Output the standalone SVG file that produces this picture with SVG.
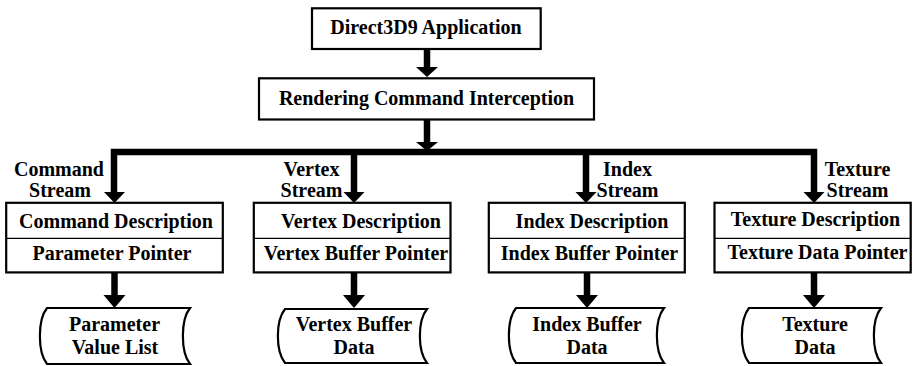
<svg xmlns="http://www.w3.org/2000/svg" width="916" height="366" viewBox="0 0 916 366">
  <style>
    .box { fill: #ffffff; stroke: #000000; stroke-width: 2.2; }
    .sep { stroke: #000000; stroke-width: 1.3; }
    .doc { fill: #ffffff; stroke: #000000; stroke-width: 2.2; }
    .wire { fill: none; stroke: #000000; stroke-width: 6.5; stroke-linejoin: miter; stroke-linecap: butt; }
    .head { fill: #000000; stroke: none; }
    text { font-family: 'Liberation Serif', Tinos, 'Times New Roman', 'DejaVu Serif', serif; font-weight: 700; font-size: 20px; fill: #000000; text-anchor: middle; }
  </style>

  <!-- connectors: trunk, distribution bus and branch arrows -->
  <g id="connectors">
    <!-- application to interception -->
    <path class="wire" d="M427,49 V68"/>
    <polygon class="head" points="416,67 438,67 427,77"/>
    <!-- interception to bus -->
    <path class="wire" d="M427,120 V143"/>
    <polygon class="head" points="416,142 438,142 427,151"/>
    <!-- bus with four branches -->
    <path class="wire" d="M114,193 V152 H814 V193"/>
    <path class="wire" d="M354,152 V193"/>
    <path class="wire" d="M586,152 V193"/>
    <polygon class="head" points="104,192 125,192 114.5,203"/>
    <polygon class="head" points="343.5,192 364.5,192 354,203"/>
    <polygon class="head" points="575.5,192 596.5,192 586,203"/>
    <polygon class="head" points="803.5,192 824.5,192 814,203"/>
    <!-- descriptors to data stores -->
    <path class="wire" d="M114.5,273 V296"/>
    <polygon class="head" points="103.5,295 125.5,295 114.5,308"/>
    <path class="wire" d="M354,273 V296"/>
    <polygon class="head" points="343,295 365,295 354,308"/>
    <path class="wire" d="M587,273 V296"/>
    <polygon class="head" points="576,295 598,295 587,308"/>
    <path class="wire" d="M814,273 V296"/>
    <polygon class="head" points="803,295 825,295 814,308"/>
  </g>

  <!-- stream labels on the bus branches -->
  <g id="stream-labels" font-family="Liberation Serif, serif">
    <text x="59" y="176">Command</text>
    <text x="60" y="197">Stream</text>
    <text x="311.5" y="176">Vertex</text>
    <text x="311.5" y="197">Stream</text>
    <text x="627.5" y="176">Index</text>
    <text x="627.5" y="197">Stream</text>
    <text x="857.5" y="176">Texture</text>
    <text x="857.5" y="197">Stream</text>
  </g>

  <g id="app">
    <rect class="box" x="312" y="8.3" width="228.7" height="40.7"/>
    <text x="426" y="34">Direct3D9 Application</text>
  </g>

  <g id="interception">
    <rect class="box" x="259" y="78.3" width="335" height="41.2"/>
    <text x="426.5" y="104.5">Rendering Command Interception</text>
  </g>

  <g id="command-desc">
    <rect class="box" x="6.2" y="202.8" width="216.6" height="69.6"/>
    <line class="sep" x1="6.2" y1="238.3" x2="222.8" y2="238.3"/>
    <text x="116" y="228">Command Description</text>
    <text x="112" y="260">Parameter Pointer</text>
  </g>

  <g id="vertex-desc">
    <rect class="box" x="253.8" y="202.8" width="196.7" height="69.6"/>
    <line class="sep" x1="253.8" y1="238.3" x2="450.5" y2="238.3"/>
    <text x="361" y="228">Vertex Description</text>
    <text x="356" y="260">Vertex Buffer Pointer</text>
  </g>

  <g id="index-desc">
    <rect class="box" x="488.8" y="202.8" width="196" height="69.6"/>
    <line class="sep" x1="488.8" y1="238.3" x2="684.8" y2="238.3"/>
    <text x="592" y="228">Index Description</text>
    <text x="589.5" y="260">Index Buffer Pointer</text>
  </g>

  <g id="texture-desc">
    <rect class="box" x="714.5" y="202.8" width="196.2" height="69.6"/>
    <line class="sep" x1="714.5" y1="238.3" x2="910.7" y2="238.3"/>
    <text x="815.5" y="226">Texture Description</text>
    <text x="817.5" y="259">Texture Data Pointer</text>
  </g>

  <!-- stored-data shapes -->
  <g id="param-list">
    <path class="doc" d="M47,308 H190 C180.5,320 180.5,352 190,364 H47 C37.5,352 37.5,320 47,308 Z"/>
    <text x="114.5" y="331">Parameter</text>
    <text x="115" y="354">Value List</text>
  </g>

  <g id="vertex-data">
    <path class="doc" d="M285,309 H427 C417.5,321 417.5,351 427,363 H285 C275.5,351 275.5,321 285,309 Z"/>
    <text x="354" y="331">Vertex Buffer</text>
    <text x="354" y="354">Data</text>
  </g>

  <g id="index-data">
    <path class="doc" d="M516,308 H664 C654.5,320 654.5,351 664,363 H516 C506.5,351 506.5,320 516,308 Z"/>
    <text x="587" y="331">Index Buffer</text>
    <text x="587" y="354">Data</text>
  </g>

  <g id="texture-data">
    <path class="doc" d="M749,308 H881 C871.5,320 871.5,351 881,363 H749 C739.5,351 739.5,320 749,308 Z"/>
    <text x="815" y="331">Texture</text>
    <text x="815" y="354">Data</text>
  </g>
</svg>
